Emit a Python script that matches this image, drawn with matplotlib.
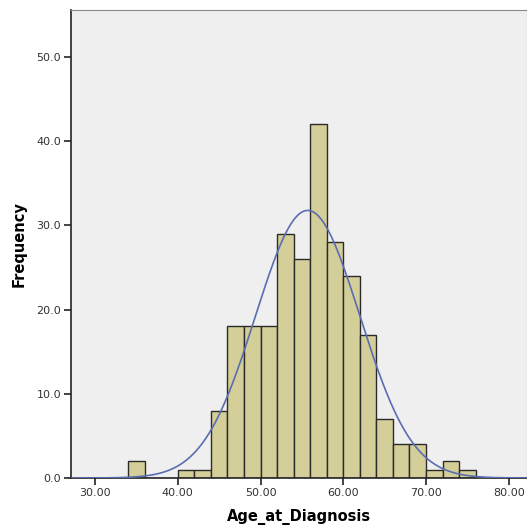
import matplotlib
matplotlib.use("Agg")
import matplotlib.pyplot as plt
import numpy as np

# histogram of Age_at_Diagnosis, bin width 2 starting at 34
bin_start = 34.0
bin_width = 2.0
counts = [2, 0, 0, 1, 1, 8, 18, 18, 18, 29, 26, 42, 28, 24, 17, 7, 4, 4, 1, 2, 1]
x_ticks = [30, 40, 50, 60, 70, 80]
y_ticks = [0, 10, 20, 30, 40, 50]

# fitted normal curve
fit_mean = 55.7
fit_sd = 6.3

counts = np.array(counts, dtype=float)
n_total = counts.sum()
lefts = bin_start + bin_width * np.arange(len(counts))

fig = plt.figure(figsize=(5.27, 5.27), dpi=100)
ax = fig.add_axes([71 / 527, 1 - 478 / 527, 456 / 527, 468 / 527])
ax.set_facecolor("#efefef")

mask = counts > 0
ax.bar(lefts[mask], counts[mask], width=bin_width, align="edge",
       color="#d4cf98", edgecolor="#2b2b2b", linewidth=1.0, zorder=2)

xs = np.linspace(27, 83, 600)
pdf = n_total * bin_width / (fit_sd * np.sqrt(2 * np.pi)) * np.exp(-0.5 * ((xs - fit_mean) / fit_sd) ** 2)
ax.plot(xs, pdf, color="#5a6db3", linewidth=1.2, zorder=3)

ax.set_xlim(27.1, 82.2)
ax.set_ylim(0, 55.6)
ax.set_xticks(x_ticks)
ax.set_xticklabels([f"{v:.2f}" for v in x_ticks])
ax.set_yticks(y_ticks)
ax.set_yticklabels([f"{v:.1f}" for v in y_ticks])
ax.tick_params(axis="both", labelsize=8, length=5, width=1.2, color="#222222", labelcolor="#333333", pad=2)

for side in ["left", "bottom"]:
    ax.spines[side].set_color("#222222")
    ax.spines[side].set_linewidth(1.2)
for side in ["top", "right"]:
    ax.spines[side].set_color("#888888")
    ax.spines[side].set_linewidth(0.8)

ax.set_xlabel("Age_at_Diagnosis", fontsize=10.5, fontweight="bold", labelpad=8)
ax.set_ylabel("Frequency", fontsize=10.5, fontweight="bold", labelpad=7)

fig.savefig("out.png", dpi=100, facecolor="white")
